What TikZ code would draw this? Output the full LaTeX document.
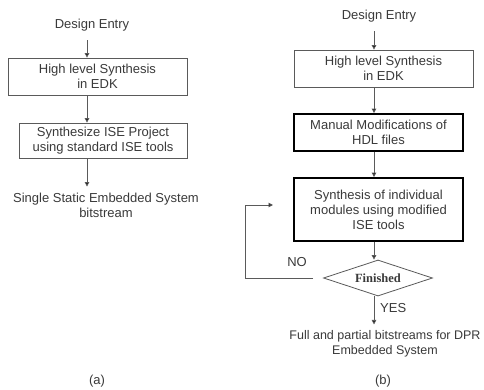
\documentclass[tikz,border=0pt]{standalone}
\usepackage{fontspec}
\setmainfont{Liberation Sans}
\newfontfamily\labelserif{Liberation Serif}
\usetikzlibrary{arrows.meta,shapes.geometric}
\definecolor{ink}{HTML}{3A3A3A}
\definecolor{rule}{HTML}{5A5A5A}
\tikzset{
  txt/.style={text=ink, font=\fontsize{13}{15}\selectfont, align=center, inner sep=0pt},
  thinbox/.style={txt, draw=rule, line width=0.8pt, minimum width=#1, minimum height=37pt},
  thickbox/.style={txt, draw=black, line width=1.8pt, minimum width=#1, minimum height=37pt},
  decision/.style={diamond, aspect=3, draw=rule, line width=0.8pt, inner sep=0pt,
    minimum width=109pt, minimum height=36pt,
    font=\labelserif\bfseries\fontsize{12.5}{14}\selectfont, text=ink},
  arr/.style={draw=rule, line width=0.9pt, -{Triangle[length=4.5pt,width=4.5pt,fill=black]}}
}
\begin{document}
\begin{tikzpicture}[x=1pt,y=-1pt]
\useasboundingbox (0,0) rectangle (484,390);
\fill[white] (0,0) rectangle (484,390);

% column (a): single static flow
\coordinate (ax) at (87,0);
\node[txt] (a0) at (92,25) {Design Entry};
\node[thinbox=179pt] (a1) at (97.5,76.5) {High level Synthesis\\in EDK};
\node[thinbox=168pt, minimum height=35pt] (a2) at (103,140.5) {Synthesize ISE Project\\using standard ISE tools};
\node[txt] (a3) at (106,205) {Single Static Embedded System\\bitstream};
\node[txt] (alab) at (97,381) {(a)};

\draw[arr] (a0.south -| ax) ++(0,9) -- (a1.north -| ax);
\draw[arr] (a1.south -| ax) -- (a2.north -| ax);
\draw[arr] (a2.south -| ax) -- ([yshift=6pt]a3.north -| ax);

% column (b): dynamic partial reconfiguration flow
\coordinate (bx) at (374,0);
\coordinate (lp) at (245,0);
\coordinate (lt) at (273,205);
\node[txt] (b0) at (379,16) {Design Entry};
\node[thinbox=179pt] (b1) at (383.5,68.5) {High level Synthesis\\in EDK};
\node[thickbox=169pt] (b2) at (378.5,132.5) {Manual Modifications of\\HDL files};
\node[thickbox=169pt, minimum height=63pt] (b3) at (378.5,209.5) {Synthesis of individual\\modules using modified\\ISE tools};
\node[decision] (d) at (378,278) {Finished};
\node[txt, font=\fontsize{12.5}{15}\selectfont] (b4) at (385,344) {Full and partial bitstreams for DPR\\Embedded System};
\node[txt] (blab) at (383,381) {(b)};
\node[txt, anchor=west] (yes) at (380,308) {YES};
\node[txt] (no) at (297,262) {NO};

\draw[arr] (b0.south -| bx) ++(0,9) -- (b1.north -| bx);
\draw[arr] (b1.south -| bx) -- (b2.north -| bx);
\draw[arr] (b2.south -| bx) -- (b3.north -| bx);
\draw[arr] (b3.south -| bx) -- (d.north -| bx);
\draw[arr] (d.south -| bx) -- ([yshift=6pt]b4.north -| bx);
\draw[arr, shorten <=10pt] (d.west) -- (d.west -| lp) |- (lt);
\end{tikzpicture}
\end{document}
